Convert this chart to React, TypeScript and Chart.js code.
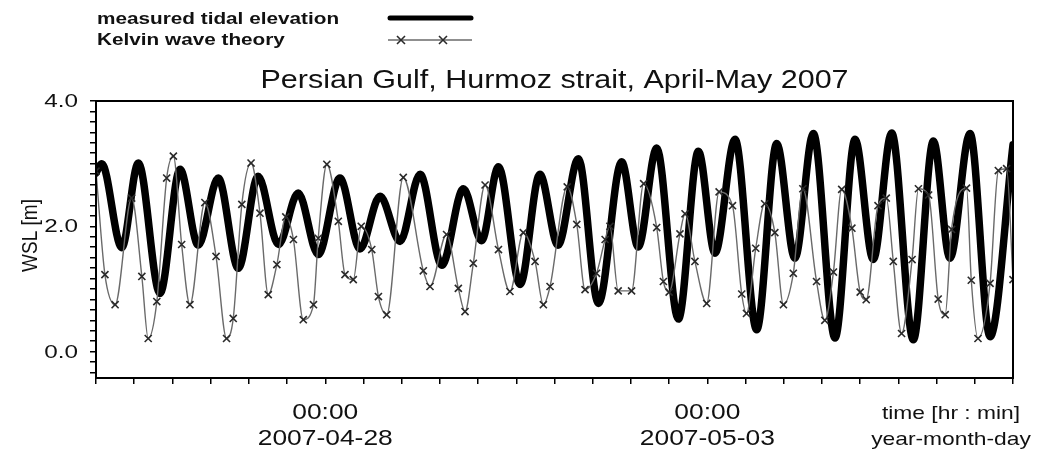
import React, { useEffect, useRef } from 'react';
import { Chart, registerables } from 'chart.js';

Chart.register(...registerables);

// ---- data (hours since 2007-04-25 00:00, water surface level in m) ----
const measuredHours = [0, 1.8, 8.1, 13.3, 20.1, 26.4, 32.1, 38.4, 44.7, 50.9, 57.3, 63.5, 69.8, 76.6, 82.9, 89.2, 95.5, 101.8, 108.6, 115.4, 121.1, 126.4, 133.2, 139.4, 145.1, 151.5, 157.8, 165.1, 170.3, 176.1, 182.9, 189.2, 194.4, 200.7, 207.5, 213.8, 219.5, 225.3, 232.1, 238.4, 244.1, 249.9, 256.7, 263.0, 268.2, 274.5, 280.8, 288];
const measuredLevels = [2.85, 3.00, 1.66, 3.01, 0.93, 2.91, 1.70, 2.77, 1.33, 2.80, 1.71, 2.53, 1.55, 2.77, 1.64, 2.48, 1.76, 2.83, 1.38, 2.60, 1.77, 2.95, 1.07, 2.83, 1.70, 3.08, 0.77, 3.03, 1.67, 3.25, 0.52, 3.20, 1.57, 3.39, 0.35, 3.32, 1.49, 3.48, 0.22, 3.39, 1.47, 3.49, 0.19, 3.36, 1.49, 3.48, 0.24, 3.30];

const kelvinHours = [0, 2.8, 6.0, 11.2, 14.4, 16.4, 19.1, 22.2, 24.3, 26.9, 29.5, 34.2, 37.7, 41.0, 43.1, 45.8, 48.7, 51.5, 54.1, 56.8, 59.6, 62.0, 65.1, 68.3, 69.8, 72.5, 76.1, 78.2, 80.8, 83.3, 86.6, 88.7, 91.3, 96.5, 102.8, 104.9, 110.1, 113.8, 115.9, 118.5, 122.2, 126.4, 130.0, 134.2, 137.9, 140.5, 142.6, 148.0, 151.0, 153.6, 157.2, 159.9, 161.4, 164.0, 168.2, 172.0, 176.1, 178.2, 180.0, 183.4, 185.0, 188.1, 191.8, 195.7, 199.9, 202.8, 204.3, 207.2, 210.0, 213.2, 215.9, 219.0, 222.0, 226.3, 228.9, 231.6, 234.2, 237.4, 240.0, 241.9, 245.6, 248.2, 250.4, 253.0, 256.3, 258.3, 261.5, 264.5, 266.7, 268.7, 273.4, 274.9, 277.0, 280.8, 283.4, 286.0, 288.0];
const kelvinLevels = [2.88, 1.23, 0.75, 2.45, 1.20, 0.21, 0.80, 2.77, 3.12, 1.71, 0.75, 2.38, 1.52, 0.21, 0.53, 2.35, 3.01, 2.21, 0.91, 1.39, 2.15, 1.79, 0.51, 0.75, 1.81, 2.99, 2.08, 1.23, 1.15, 2.00, 1.63, 0.88, 0.59, 2.78, 1.29, 1.04, 1.87, 1.01, 0.64, 1.41, 2.66, 1.63, 0.96, 1.90, 1.44, 0.75, 1.04, 2.63, 2.03, 0.99, 1.25, 1.79, 2.00, 0.97, 0.97, 2.68, 1.98, 1.12, 0.95, 1.88, 2.20, 1.44, 0.77, 2.55, 2.33, 0.92, 0.61, 1.65, 2.36, 1.90, 0.75, 1.25, 2.60, 1.12, 0.50, 1.27, 2.59, 1.97, 0.95, 0.83, 2.33, 2.45, 1.44, 0.29, 1.47, 2.60, 2.50, 0.84, 0.59, 1.95, 2.61, 1.14, 0.21, 1.09, 2.89, 2.92, 1.15];

// ---- axes / labels ----
const X_MIN = 0;
const X_MAX = 288;
const X_TICK_STEP = 12;
const Y_MIN = -0.42;
const Y_MAX = 4.0;
const Y_TICK_STEP = 1 / 6;
const yLabelValues = [0, 2, 4];
const yLabelTexts = ['0.0', '2.0', '4.0'];
const xLabelHours = [72, 192];
const xLabelTimes = ['00:00', '00:00'];
const xLabelDates = ['2007-04-28', '2007-05-03'];
const xAxisTitleLines = ['time [hr : min]', 'year-month-day'];
const yAxisTitle = 'WSL [m]';
const titleText = 'Persian Gulf, Hurmoz strait, April-May 2007';
const legendLabels = ['measured tidal elevation', 'Kelvin wave theory'];

const SANS = '"Liberation Sans", Arial, sans-serif';
const KELVIN_LINE = '#6a6a6a';
const KELVIN_MARK = '#2a2a2a';

function stretchText(ctx: CanvasRenderingContext2D, text: string, x: number, y: number, font: string, align: CanvasTextAlign, sx: number, baseline: CanvasTextBaseline = 'alphabetic') {
  ctx.save();
  ctx.translate(x, y);
  ctx.scale(sx, 1);
  ctx.font = font;
  ctx.textAlign = align;
  ctx.textBaseline = baseline;
  ctx.fillText(text, 0, 0);
  ctx.restore();
}

function drawCross(ctx: CanvasRenderingContext2D, x: number, y: number, r: number) {
  ctx.beginPath();
  ctx.moveTo(x - r, y - r);
  ctx.lineTo(x + r, y + r);
  ctx.moveTo(x - r, y + r);
  ctx.lineTo(x + r, y - r);
  ctx.stroke();
}

const decorPlugin = {
  id: 'decor',
  afterDraw(chart: any) {
    const { ctx, chartArea: a, scales } = chart;
    const xs = scales.x;
    const ys = scales.y;
    ctx.save();
    // frame
    ctx.strokeStyle = '#000';
    ctx.lineWidth = 2;
    ctx.strokeRect(a.left, a.top, a.right - a.left, a.bottom - a.top);

    ctx.fillStyle = '#111';
    // legend
    stretchText(ctx, legendLabels[0], 97, 24, `bold 17px ${SANS}`, 'left', 1.22);
    stretchText(ctx, legendLabels[1], 97, 45, `bold 17px ${SANS}`, 'left', 1.22);
    ctx.strokeStyle = '#000';
    ctx.lineWidth = 5;
    ctx.lineCap = 'round';
    ctx.beginPath();
    ctx.moveTo(390, 18);
    ctx.lineTo(471, 18);
    ctx.stroke();
    ctx.lineCap = 'butt';
    ctx.strokeStyle = KELVIN_LINE;
    ctx.lineWidth = 1.3;
    ctx.beginPath();
    ctx.moveTo(388, 40);
    ctx.lineTo(472, 40);
    ctx.stroke();
    ctx.strokeStyle = KELVIN_MARK;
    ctx.lineWidth = 1.6;
    drawCross(ctx, 401, 40, 4);
    drawCross(ctx, 443, 40, 4);

    // title
    stretchText(ctx, titleText, (a.left + a.right) / 2, 88, `25px ${SANS}`, 'center', 1.22);

    // y tick labels
    yLabelValues.forEach((v, i) => {
      stretchText(ctx, yLabelTexts[i], a.left - 18, ys.getPixelForValue(v) + 1, `18px ${SANS}`, 'right', 1.35, 'middle');
    });

    // y axis title (rotated)
    ctx.save();
    ctx.translate(31, (a.top + a.bottom) / 2 - 4);
    ctx.rotate(-Math.PI / 2);
    ctx.scale(1, 1.2);
    ctx.font = `19px ${SANS}`;
    ctx.textAlign = 'center';
    ctx.textBaseline = 'middle';
    ctx.fillText(yAxisTitle, 0, 0);
    ctx.restore();

    // x tick labels
    xLabelHours.forEach((h, i) => {
      const px = xs.getPixelForValue(h);
      stretchText(ctx, xLabelTimes[i], px, a.bottom + 41, `22px ${SANS}`, 'center', 1.2);
      stretchText(ctx, xLabelDates[i], px, a.bottom + 67, `22px ${SANS}`, 'center', 1.2);
    });
    // x axis title at right end
    stretchText(ctx, xAxisTitleLines[0], 951, a.bottom + 41, `19px ${SANS}`, 'center', 1.2);
    stretchText(ctx, xAxisTitleLines[1], 951, a.bottom + 67, `19px ${SANS}`, 'center', 1.2);
    ctx.restore();
  },
};

export default function App() {
  const ref = useRef<HTMLCanvasElement | null>(null);

  useEffect(() => {
    document.body.style.margin = '0';
    if (!ref.current) return;
    const chart = new Chart(ref.current, {
      type: 'line',
      data: {
        datasets: [
          {
            label: legendLabels[0],
            data: measuredHours.map((h, i) => ({ x: h, y: measuredLevels[i] })),
            borderColor: '#000',
            borderWidth: 7.5,
            pointRadius: 0,
            cubicInterpolationMode: 'monotone',
            borderCapStyle: 'round',
            borderJoinStyle: 'round',
            order: 1,
          },
          {
            label: legendLabels[1],
            data: kelvinHours.map((h, i) => ({ x: h, y: kelvinLevels[i] })),
            borderColor: KELVIN_LINE,
            borderWidth: 1.4,
            pointStyle: 'crossRot',
            pointRadius: 5,
            pointBorderColor: KELVIN_MARK,
            pointBackgroundColor: KELVIN_MARK,
            pointBorderWidth: 1.6,
            cubicInterpolationMode: 'monotone',
            order: 0,
          },
        ],
      },
      options: {
        responsive: false,
        animation: false,
        events: [],
        layout: { padding: { top: 101, right: 25, left: 0, bottom: 0 } },
        plugins: { legend: { display: false }, title: { display: false }, tooltip: { enabled: false } },
        scales: {
          x: {
            type: 'linear',
            min: X_MIN,
            max: X_MAX,
            afterBuildTicks: (s: any) => {
              const t = [];
              for (let v = X_MIN; v <= X_MAX + 1e-9; v += X_TICK_STEP) t.push({ value: v });
              s.ticks = t;
            },
            afterFit: (s: any) => { s.height = 71; },
            ticks: { display: false },
            grid: { drawOnChartArea: false, drawTicks: true, tickLength: 6, color: '#000', lineWidth: 1.5 },
            border: { display: false },
          },
          y: {
            type: 'linear',
            min: Y_MIN,
            max: Y_MAX,
            afterBuildTicks: (s: any) => {
              const t = [];
              const i0 = Math.ceil(Y_MIN / Y_TICK_STEP - 1e-9);
              const i1 = Math.floor(Y_MAX / Y_TICK_STEP + 1e-9);
              for (let i = i0; i <= i1; i++) t.push({ value: i * Y_TICK_STEP });
              s.ticks = t;
            },
            afterFit: (s: any) => { s.width = 96; },
            ticks: { display: false },
            grid: { drawOnChartArea: false, drawTicks: true, tickLength: 6, color: '#000', lineWidth: 1.5 },
            border: { display: false },
          },
        },
      },
      plugins: [decorPlugin],
    } as any);
    return () => chart.destroy();
  }, []);

  return (
    <div style={{ width: 1038, height: 449, background: '#fff' }}>
      <canvas ref={ref} width={1038} height={449} style={{ display: 'block' }} />
    </div>
  );
}
